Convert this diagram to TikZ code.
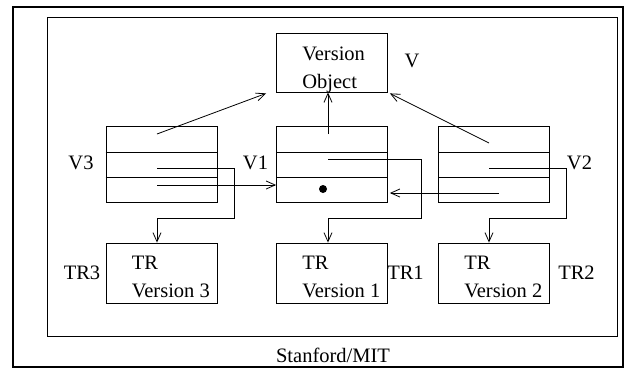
\documentclass[tikz,border=0pt]{standalone}
\usepackage{fontspec}
\setmainfont{Liberation Serif}
\usetikzlibrary{arrows.meta,calc}
\begin{document}
\begin{tikzpicture}[x=1pt,y=-1pt,
  font=\fontsize{20.5}{28}\selectfont,
  box/.style={draw, line width=0.8pt, inner sep=0pt, minimum width=111pt, minimum height=59pt},
  rec/.style={draw, line width=0.8pt, inner sep=0pt, minimum width=111pt, minimum height=76pt},
  txt/.style={inner sep=0pt, align=left, anchor=north west},
  lbl/.style={inner sep=0pt},
  divider/.style={line width=0.8pt},
  conn/.style={line width=0.8pt, -{Straight Barb[length=9pt,width=8pt]}},
  ]
\useasboundingbox (0,0) rectangle (629,376);
\draw[line width=2pt] (13,7) rectangle (623,367);
\draw[line width=1pt] (47,17) rectangle (617,336);

% version object
\node[box] (vo) at (332,62.5) {};
\node[txt] (vot) at ($(vo.north west)+(26,14)$) {Version\\Object};
\node[lbl] (vl) at (412,61) {V};

% records
\node[rec] (r3) at (161.5,164) {};
\node[rec] (r1) at (332,164) {};
\node[rec] (r2) at (494,164) {};
\foreach \r in {r3,r1,r2}{
  \draw[divider] (\r.west |- 0,152) -- (\r.east |- 0,152);
  \draw[divider] (\r.west |- 0,177) -- (\r.east |- 0,177);
}
\node[lbl] (v3l) at (81,162.5) {V3};
\node[lbl] (v1l) at (255.5,162.5) {V1};
\node[lbl] (v2l) at (579.5,162.5) {V2};
\node[circle, fill, inner sep=0pt, minimum size=8pt] (dot) at (323,189) {};

% TR boxes
\node[box, minimum height=60pt] (tr3) at (161.5,273) {};
\node[box, minimum height=60pt] (tr1) at (332,273) {};
\node[box, minimum height=60pt] (tr2) at (494,273) {};
\node[txt] (tr3t) at ($(tr3.north west)+(26,13)$) {TR\\Version 3};
\node[txt] (tr1t) at ($(tr1.north west)+(26,13)$) {TR\\Version 1};
\node[txt] (tr2t) at ($(tr2.north west)+(26,13)$) {TR\\Version 2};
\node[lbl] (tr3l) at (82,272.5) {TR3};
\node[lbl] (tr1l) at (405.5,272.5) {TR1};
\node[lbl] (tr2l) at (576.5,272.5) {TR2};

\node[lbl] (cap) at (333,355) {Stanford/MIT};

% connector start points
\coordinate (a3) at (157,134);
\coordinate (a1) at (328,134);
\coordinate (a2) at (489,143);
\coordinate (m3) at (157,168);
\coordinate (b3) at (157,185);
\coordinate (m1) at (328,159);
\coordinate (m2) at (489,168);
\coordinate (b2) at (499,193);

\draw[conn] (a3) -- ($(vo.south west)+(-10,1)$);
\draw[conn] (a1) -- (a1 |- vo.south);
\draw[conn] (a2) -- ($(vo.south east)+(2,1)$);

\draw[conn] (m3) -- ++(77,0) -- ++(0,50) -| (m3 |- tr3.north);
\draw[conn] (b3) -- (b3 -| r1.west);
\draw[conn] (m1) -- ++(93,0) -- ++(0,59) -| (m1 |- tr1.north);
\draw[conn] (m2) -- ++(77,0) -- ++(0,50) -| (m2 |- tr2.north);
\draw[conn] (b2) -- ($(b2 -| r1.east)+(2,0)$);
\end{tikzpicture}
\end{document}
